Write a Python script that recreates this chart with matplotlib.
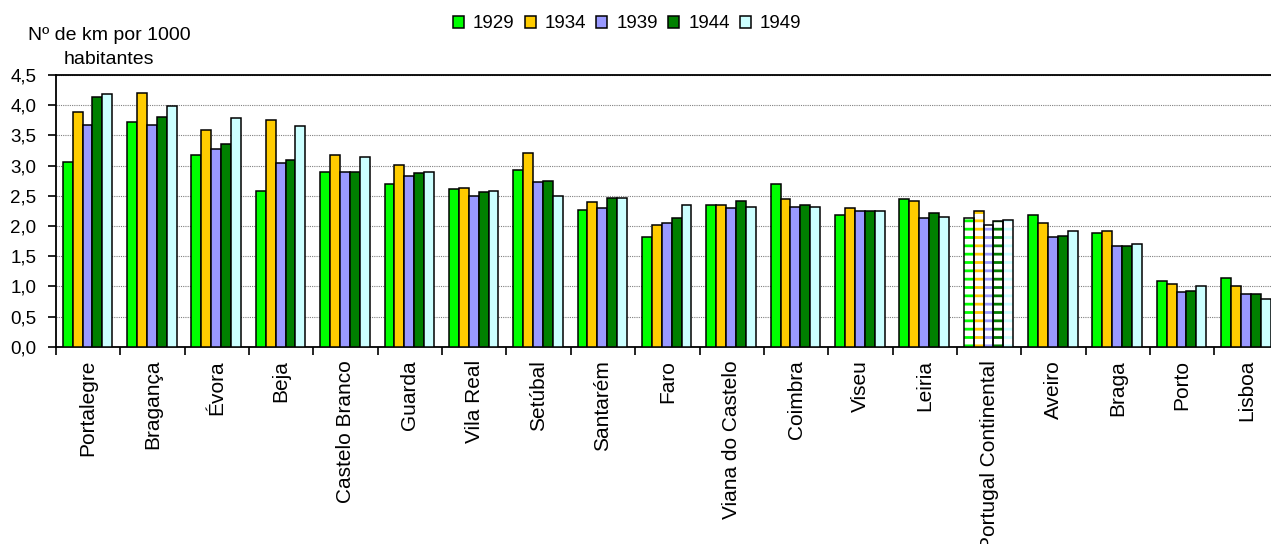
import matplotlib

matplotlib.use("Agg")
import matplotlib.pyplot as plt  # noqa: E402
import numpy as np

plt.rcParams["font.family"] = ["Liberation Sans", "DejaVu Sans"]
plt.rcParams["hatch.linewidth"] = 2.0

CATEGORIES = [
    "Portalegre", "Bragança", "Évora", "Beja", "Castelo Branco", "Guarda",
    "Vila Real", "Setúbal", "Santarém", "Faro", "Viana do Castelo", "Coimbra",
    "Viseu", "Leiria", "Portugal Continental", "Aveiro", "Braga", "Porto", "Lisboa",
]
YEARS = ["1929", "1934", "1939", "1944", "1949"]

v1929 = [3.06, 3.72, 3.17, 2.58, 2.90, 2.69, 2.61, 2.93, 2.26, 1.81, 2.34, 2.69,
         2.18, 2.45, 2.13, 2.18, 1.89, 1.09, 1.14]
v1934 = [3.88, 4.20, 3.59, 3.75, 3.17, 3.01, 2.63, 3.20, 2.40, 2.02, 2.34, 2.45,
         2.29, 2.42, 2.24, 2.05, 1.92, 1.04, 1.01]
v1939 = [3.67, 3.67, 3.27, 3.04, 2.90, 2.82, 2.50, 2.72, 2.29, 2.05, 2.29, 2.32,
         2.24, 2.13, 2.02, 1.81, 1.67, 0.90, 0.87]
v1944 = [4.13, 3.81, 3.36, 3.09, 2.90, 2.88, 2.56, 2.74, 2.47, 2.13, 2.42, 2.34,
         2.24, 2.21, 2.09, 1.84, 1.67, 0.93, 0.87]
v1949 = [4.18, 3.99, 3.78, 3.65, 3.14, 2.90, 2.58, 2.50, 2.47, 2.34, 2.32, 2.32,
         2.24, 2.15, 2.10, 1.92, 1.70, 1.01, 0.79]
SERIES = [v1929, v1934, v1939, v1944, v1949]
COLORS = ["#00FF00", "#FFCC00", "#9999FF", "#008000", "#CCFFFF"]
HATCHED = "Portugal Continental"
Y_TICKS = [0.0, 0.5, 1.0, 1.5, 2.0, 2.5, 3.0, 3.5, 4.0, 4.5]

W, H = 1271, 544
fig = plt.figure(figsize=(W / 100, H / 100), dpi=100)
ax = fig.add_axes([56 / W, (H - 346.7) / H, 1222.7 / W, 271.7 / H])

x = np.arange(len(CATEGORIES))
bw = 0.154
hi = CATEGORIES.index(HATCHED)
for i, (vals, col, yr) in enumerate(zip(SERIES, COLORS, YEARS)):
    pos = x + (i - 2) * bw - 0.01
    vals = np.array(vals)
    normal = np.arange(len(vals)) != hi
    ax.bar(pos[normal], vals[normal], bw, color=col, edgecolor="black",
           linewidth=1.1, label=yr, zorder=3)
    # the national total is drawn with a striped fill
    ax.bar(pos[hi], vals[hi], bw, facecolor="white", edgecolor=col,
           hatch="--", linewidth=0, zorder=3)
    ax.bar(pos[hi], vals[hi], bw, fill=False, edgecolor="black",
           linewidth=1.1, zorder=4)

ax.set_xlim(-0.5, len(CATEGORIES) - 0.5)
ax.set_ylim(0, 4.5)
ax.set_yticks(Y_TICKS)
ax.set_yticklabels([f"{t:.1f}".replace(".", ",") for t in Y_TICKS], fontsize=13.5)
ax.set_xticks(x)
ax.set_xticklabels(CATEGORIES, rotation=90, fontsize=15, va="top", ha="center")
ax.set_xticks(np.arange(len(CATEGORIES) + 1) - 0.5, minor=True)
ax.tick_params(axis="x", which="major", length=0, pad=9.5)
ax.tick_params(axis="x", which="minor", length=6, width=1.2, direction="out")
ax.tick_params(axis="y", length=6, width=1.2, direction="out", pad=8)
ax.grid(axis="y", color="#808080", linestyle=(0, (1, 1)), linewidth=0.8, zorder=0)
for s in ax.spines.values():
    s.set_linewidth(1.3)

fig.text(109 / W, 1 - 35 / H, "Nº de km por 1000", ha="center", va="center", fontsize=14)
fig.text(109 / W, 1 - 60 / H, "habitantes", ha="center", va="center", fontsize=14)

fig.legend(loc="center", bbox_to_anchor=(627 / W, 1 - 24 / H), ncol=5, frameon=False,
           fontsize=13.5, handlelength=0.6, handleheight=0.6, handletextpad=0.48,
           columnspacing=0.53, borderaxespad=0)

fig.savefig("out.png", dpi=100)
plt.close(fig)
